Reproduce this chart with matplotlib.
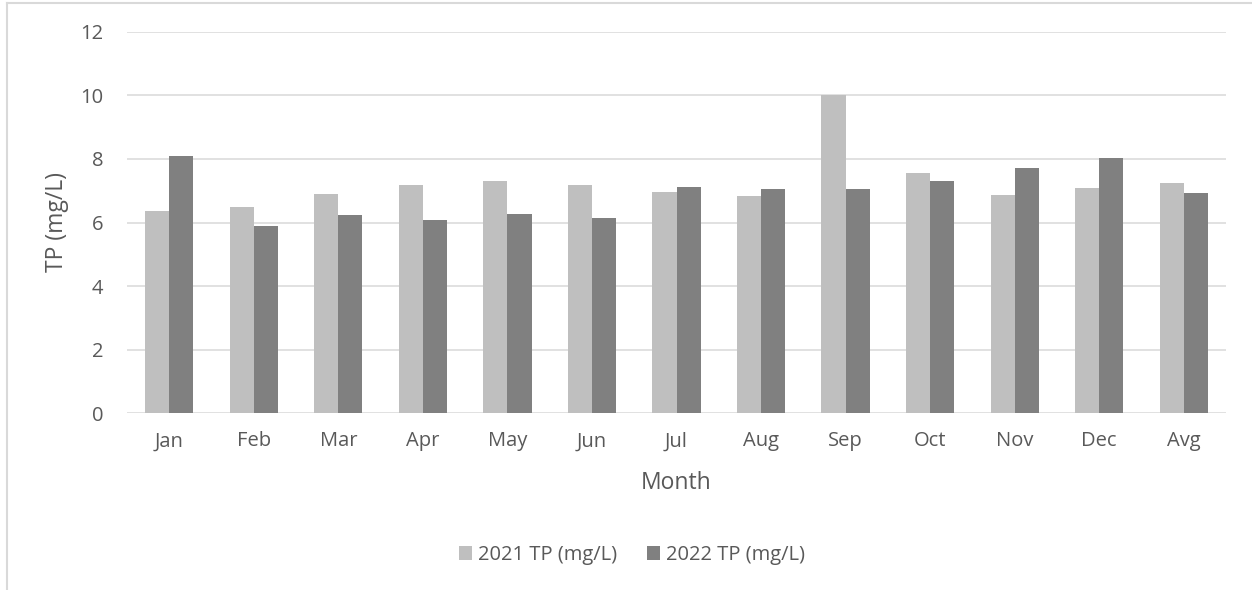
import matplotlib
matplotlib.use("Agg")
import matplotlib.pyplot as plt
from matplotlib.lines import Line2D
import numpy as np

months = ["Jan", "Feb", "Mar", "Apr", "May", "Jun", "Jul",
          "Aug", "Sep", "Oct", "Nov", "Dec", "Avg"]
tp_2021 = [6.36, 6.48, 6.89, 7.17, 7.31, 7.18, 6.97, 6.82, 10.0, 7.57, 6.86, 7.09, 7.23]
tp_2022 = [8.09, 5.88, 6.24, 6.09, 6.28, 6.15, 7.11, 7.06, 7.06, 7.31, 7.70, 8.02, 6.92]
yticks = [0, 2, 4, 6, 8, 10, 12]

TXT = "#595959"
GRID = "#D9D9D9"
C21 = "#BFBFBF"
C22 = "#808080"

plt.rcParams["font.family"] = ["Open Sans", "DejaVu Sans"]

W, H = 1252, 590
fig = plt.figure(figsize=(W / 100, H / 100), dpi=100)
ax = fig.add_axes([127 / W, 1 - 413.3 / H, (1226 - 127) / W, (413.3 - 31.7) / H])

x = np.arange(len(months))
bw = 0.285
ax.bar(x - bw / 2, tp_2021, bw, color=C21, label="2021 TP (mg/L)", zorder=3)
ax.bar(x + bw / 2, tp_2022, bw, color=C22, label="2022 TP (mg/L)", zorder=3)

ax.set_xlim(-0.5, len(months) - 0.5)
ax.set_ylim(0, 12)
ax.set_yticks(yticks)
ax.set_xticks(x)
ax.set_xticklabels(months)
ax.grid(axis="y", color=GRID, linewidth=1.1, zorder=0)
for s in ax.spines.values():
    s.set_visible(False)
ax.tick_params(length=0, labelsize=14.5, labelcolor=TXT)
ax.tick_params(axis="y", pad=17)
ax.tick_params(axis="x", pad=13)

fig.text(676 / W, 1 - 483 / H, "Month", ha="center", va="center",
         fontsize=16.5, color=TXT)
fig.text(57 / W, 1 - 222.5 / H, "TP (mg/L)", ha="center", va="center",
         rotation=90, fontsize=16.5, color=TXT)

leg = fig.legend(loc="center", bbox_to_anchor=(632 / W, 1 - 555 / H),
                 ncol=2, frameon=False, fontsize=14.5, handlelength=0.65,
                 handleheight=0.65, handletextpad=0.3, columnspacing=1.5)
for t in leg.get_texts():
    t.set_color(TXT)

# chart frame (left and top edges)
fig.add_artist(Line2D([7 / W, 7 / W], [0, 1 - 3 / H], color=GRID, linewidth=1.5,
                      transform=fig.transFigure))
fig.add_artist(Line2D([7 / W, 1], [1 - 3 / H, 1 - 3 / H], color=GRID, linewidth=1.5,
                      transform=fig.transFigure))

fig.savefig("out.png", dpi=100, facecolor="white")
